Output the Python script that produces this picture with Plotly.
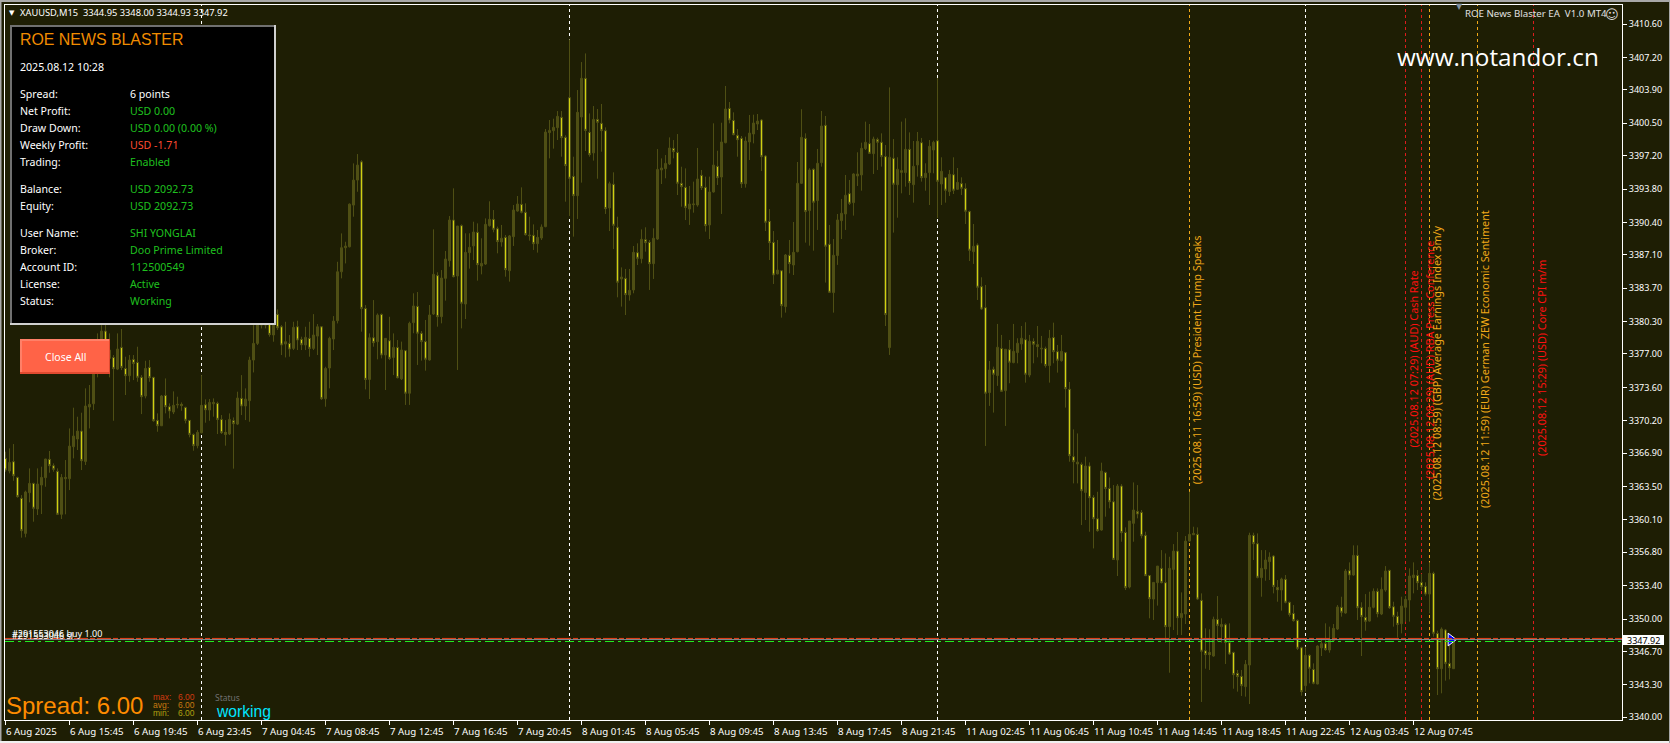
import plotly.graph_objects as go

# (open, high, low, close) per 15-minute bar, grouped by the sessions between the day separators
session_a = [
(3366.37,3367.05,3365.01,3365.18),(3365.08,3367.39,3364.84,3365.96),(3366.03,3367.83,3364.09,3364.60),(3364.43,3364.50,3362.36,3362.47),
(3362.30,3362.63,3358.29,3359.00),(3358.73,3363.08,3358.33,3362.94),(3362.87,3365.35,3361.89,3363.82),(3363.82,3363.89,3359.92,3361.28),
(3361.21,3365.35,3360.60,3363.76),(3363.65,3365.52,3360.70,3364.43),(3364.40,3366.33,3363.48,3366.30),(3366.27,3367.12,3364.91,3365.62),
(3365.62,3365.86,3365.01,3365.25),(3365.05,3365.35,3360.60,3360.67),(3360.67,3364.77,3360.19,3364.43),(3364.30,3366.20,3360.67,3364.43),
(3364.30,3369.42,3363.14,3367.62),(3367.56,3371.53,3366.37,3368.64),(3368.34,3370.61,3367.22,3369.15),(3369.15,3371.02,3365.18,3366.13),
(3366.06,3373.50,3365.69,3371.70),(3371.60,3373.84,3369.42,3371.87),(3371.93,3378.42,3371.29,3375.02),(3375.02,3379.10,3374.62,3377.74),
(3377.40,3379.94,3376.72,3379.33),(3379.33,3380.05,3376.72,3377.40),(3376.55,3379.10,3374.62,3377.40),(3376.65,3376.89,3370.20,3375.50),
(3375.46,3379.10,3375.36,3377.50),(3377.67,3379.54,3375.36,3375.63),(3375.53,3376.72,3372.82,3374.79),(3374.79,3376.89,3374.17,3376.38),
(3376.45,3376.89,3374.34,3376.04),(3376.14,3377.74,3374.17,3374.62),(3374.62,3374.85,3370.88,3372.65),(3372.72,3376.31,3372.48,3375.53),
(3375.63,3376.38,3374.17,3374.58),(3374.62,3374.68,3370.10,3370.20),(3370.24,3370.95,3369.08,3369.69),(3369.69,3372.82,3369.66,3372.72),
(3372.78,3374.51,3370.95,3371.63),(3371.63,3371.97,3370.44,3371.19),(3371.09,3373.19,3370.88,3371.77),(3371.80,3372.65,3371.46,3371.87),
(3371.87,3372.07,3371.22,3371.73),(3371.56,3371.63,3369.93,3370.24),(3370.24,3370.27,3368.51,3368.81),(3368.81,3368.91,3367.15,3367.66),
(3367.66,3369.25,3367.39,3369.02),
]
session_b = [
(3368.98,3374.85,3368.91,3371.77),(3371.83,3372.38,3370.00,3371.32),(3371.29,3372.41,3370.20,3372.07),(3371.93,3372.48,3370.61,3372.07),
(3371.97,3372.14,3368.85,3370.34),(3370.34,3370.78,3368.85,3368.98),(3369.02,3370.27,3367.66,3368.81),(3368.85,3370.95,3368.74,3370.34),
(3370.20,3370.54,3365.32,3369.90),(3369.86,3373.16,3369.76,3372.51),(3372.48,3374.85,3370.78,3371.70),(3371.70,3373.50,3370.27,3372.41),
(3372.24,3376.72,3370.10,3376.38),(3376.38,3379.94,3375.12,3378.08),(3378.08,3381.13,3377.91,3380.11),(3381.13,3382.50,3379.60,3379.94),
(3379.94,3381.20,3379.60,3380.45),(3380.11,3380.45,3378.76,3378.99),(3378.93,3380.45,3378.25,3380.11),(3381.03,3381.54,3379.44,3379.67),
(3379.77,3379.94,3376.89,3377.91),(3378.01,3380.28,3376.65,3378.25),(3378.08,3378.93,3376.72,3377.50),(3377.57,3380.28,3377.40,3379.71),
(3379.77,3380.39,3377.40,3378.42),(3378.49,3378.76,3377.40,3377.94),(3377.91,3379.77,3377.40,3378.69),(3378.59,3380.28,3376.72,3377.57),
(3377.57,3381.06,3377.40,3378.93),(3378.82,3380.05,3376.89,3379.77),(3379.77,3379.84,3372.31,3372.44),(3372.44,3375.70,3371.63,3375.53),
(3375.57,3378.76,3373.50,3378.59),(3378.52,3380.86,3377.40,3380.35),(3380.39,3386.39,3380.11,3385.37),(3385.37,3389.28,3384.70,3387.82),
(3387.82,3388.43,3386.22,3387.99),(3387.92,3392.33,3387.85,3392.26),(3392.16,3396.41,3390.98,3394.71),(3394.71,3397.36,3393.52,3396.24),
(3396.57,3396.74,3379.27,3381.64),(3381.64,3381.98,3373.39,3374.41),(3374.41,3379.10,3372.41,3378.65),(3378.65,3382.49,3377.74,3378.15),
(3378.25,3381.13,3376.45,3380.96),(3381.03,3381.13,3376.55,3376.89),(3376.89,3378.59,3373.33,3378.59),(3378.35,3380.79,3376.38,3376.55),
(3376.65,3379.10,3374.85,3377.67),(3377.67,3378.42,3374.51,3374.58),(3374.46,3378.26,3374.35,3377.41),(3377.34,3377.41,3371.81,3373.00),
(3373.00,3380.29,3371.81,3380.12),(3380.19,3383.18,3379.11,3381.89),(3381.85,3383.31,3375.88,3379.11),(3379.11,3379.34,3376.32,3378.26),
(3378.26,3380.46,3375.30,3376.46),(3376.39,3381.99,3376.32,3380.97),(3381.07,3389.69,3380.97,3385.11),(3384.98,3385.32,3379.78,3380.80),
(3380.80,3385.55,3380.12,3384.74),(3384.70,3387.49,3382.43,3386.67),(3386.50,3391.05,3385.89,3390.64),(3390.64,3393.87,3384.80,3384.87),
(3384.94,3390.03,3375.37,3390.03),(3390.07,3390.20,3379.61,3382.16),(3382.09,3389.29,3380.56,3387.35),(3387.32,3389.29,3385.69,3387.86),
(3388.00,3390.47,3386.57,3389.42),(3389.39,3390.30,3384.47,3386.10),(3385.96,3388.78,3385.11,3386.23),(3386.16,3390.81,3386.06,3390.20),
(3390.07,3392.55,3389.97,3390.71),(3390.71,3391.66,3389.39,3389.69),(3389.76,3389.97,3387.25,3388.44),(3388.40,3390.14,3387.93,3388.78),
(3388.88,3389.12,3384.87,3385.59),(3385.48,3389.12,3384.37,3389.02),(3388.95,3392.17,3388.00,3391.66),(3391.56,3393.09,3391.49,3392.27),
(3392.24,3393.97,3391.32,3391.43),(3391.43,3392.34,3389.05,3389.15),(3389.12,3390.98,3388.54,3389.05),(3389.08,3390.20,3387.59,3388.23),
(3388.23,3389.63,3387.32,3388.88),(3388.81,3390.20,3388.61,3389.93),(3389.97,3399.91,3389.90,3399.60),(3399.54,3400.83,3396.92,3399.77),
(3399.74,3400.96,3397.91,3400.08),(3400.05,3401.74,3398.79,3401.20),(3401.10,3401.74,3397.09,3399.03),(3399.06,3399.27,3392.51,3396.18),
]
session_c = [
(3403.10,3409.04,3391.05,3394.89),(3395.09,3397.09,3388.95,3393.12),(3393.12,3403.88,3390.75,3401.61),(3401.13,3406.73,3394.45,3405.07),
(3405.07,3407.61,3397.67,3399.77),(3399.57,3401.50,3397.09,3397.30),(3397.47,3402.25,3396.69,3400.89),(3400.89,3401.95,3394.85,3400.59),
(3400.49,3402.46,3397.60,3399.74),(3399.74,3400.08,3391.26,3391.80),(3391.87,3394.55,3389.52,3394.34),(3394.28,3395.50,3387.69,3390.10),
(3389.90,3390.98,3382.77,3384.30),(3384.64,3385.82,3381.82,3384.84),(3384.70,3385.66,3380.97,3383.04),(3383.01,3385.66,3382.43,3383.48),
(3383.52,3388.00,3383.18,3387.35),(3387.32,3388.27,3386.06,3386.74),(3386.71,3389.69,3386.23,3388.68),(3388.64,3389.90,3387.42,3388.34),
(3388.37,3388.61,3383.52,3386.20),(3386.20,3389.80,3384.64,3388.78),(3388.71,3397.87,3388.61,3395.80),(3395.74,3396.92,3394.31,3395.94),
(3395.87,3397.26,3394.89,3396.41),(3396.35,3399.06,3396.24,3397.98),(3397.94,3398.79,3396.92,3397.60),(3397.53,3399.40,3393.19,3394.38),
(3394.38,3396.07,3392.00,3394.04),(3393.97,3395.90,3390.64,3391.93),(3391.76,3394.11,3390.14,3392.27),(3392.20,3394.55,3391.39,3392.27),
(3392.17,3397.98,3392.00,3394.82),(3395.19,3395.74,3393.70,3393.94),(3393.97,3395.06,3389.46,3390.07),(3390.14,3395.06,3388.71,3393.50),
(3393.50,3400.49,3393.43,3396.24),(3396.11,3397.70,3394.21,3394.95),(3395.02,3400.55,3391.26,3398.59),(3398.52,3404.29,3398.45,3401.95),
(3402.01,3402.66,3400.49,3400.83),(3400.79,3401.61,3399.27,3399.33),(3399.27,3399.91,3397.09,3398.82),(3398.96,3399.20,3393.90,3394.34),
(3394.34,3399.13,3393.94,3398.69),(3398.59,3401.34,3396.75,3399.50),(3399.40,3401.37,3398.45,3400.52),(3400.42,3401.44,3399.81,3400.72),
(3400.83,3400.93,3395.63,3397.09),(3397.16,3397.26,3389.52,3390.41),(3390.51,3391.76,3386.57,3388.34),(3388.37,3389.52,3384.13,3385.04),
(3385.15,3388.61,3385.11,3385.55),(3385.48,3385.55,3380.70,3381.92),(3381.82,3387.18,3381.21,3387.08),(3387.05,3388.61,3385.21,3386.20),
(3386.06,3390.44,3385.04,3387.35),(3387.42,3396.55,3387.35,3394.38),(3394.38,3401.92,3394.31,3399.06),(3398.96,3399.47,3388.34,3391.50),
(3391.60,3395.91,3388.03,3395.74),(3395.81,3395.91,3387.52,3392.45),(3392.62,3397.88,3389.63,3396.42),(3396.48,3401.75,3396.08,3400.22),
(3400.29,3401.24,3384.27,3387.97),(3388.17,3390.14,3383.25,3383.28),(3383.25,3388.71,3381.21,3387.05),(3387.02,3391.26,3386.07,3390.65),
(3390.58,3392.79,3388.71,3391.33),(3391.26,3395.23,3389.63,3393.16),(3393.33,3394.72,3392.17,3392.34),(3392.41,3395.40,3391.09,3395.33),
(3395.13,3397.54,3394.11,3395.33),(3395.23,3398.52,3393.63,3397.94),(3397.91,3400.66,3397.77,3398.56),(3398.42,3400.42,3397.37,3397.43),
(3397.40,3399.13,3395.33,3398.89),(3398.83,3399.03,3395.74,3398.56),(3398.56,3399.47,3396.08,3397.10),(3397.10,3398.28,3379.85,3381.01),
(3377.65,3404.15,3376.90,3397.03),(3396.93,3398.89,3389.36,3394.28),(3394.24,3397.03,3390.88,3395.81),(3395.67,3400.66,3393.36,3395.50),
(3395.47,3401.00,3394.04,3397.84),(3397.84,3399.57,3393.19,3394.45),(3394.24,3398.69,3392.41,3396.11),(3396.25,3399.61,3395.06,3398.66),
(3398.52,3399.00,3394.55,3394.96),(3394.96,3396.42,3393.63,3395.40),(3395.47,3398.79,3392.17,3398.15),(3397.77,3398.72,3395.40,3398.56),
]
session_d = [
(3398.72,3405.11,3390.85,3394.58),(3394.31,3397.03,3392.17,3395.60),(3394.96,3394.99,3392.41,3393.67),(3393.53,3395.74,3393.09,3395.30),
(3395.26,3397.03,3393.29,3393.67),(3393.77,3395.94,3393.70,3394.48),(3394.35,3394.99,3393.19,3393.87),(3393.84,3394.38,3390.24,3391.53),
(3391.50,3391.60,3386.47,3387.56),(3387.42,3390.24,3386.17,3387.97),(3388.10,3388.27,3382.50,3383.79),(3383.86,3384.81,3381.48,3381.58),
(3381.72,3384.03,3367.63,3373.00),(3373.07,3376.29,3371.71,3375.37),(3375.44,3375.71,3371.03,3374.93),(3374.80,3380.06,3373.75,3377.68),
(3377.55,3378.94,3373.13,3373.20),(3373.27,3377.48,3369.67,3377.48),(3377.44,3378.43,3374.02,3376.16),(3376.12,3380.06,3376.05,3377.27),
(3377.14,3378.60,3376.05,3378.09),(3378.02,3379.85,3377.41,3378.60),(3378.46,3380.23,3374.08,3374.93),(3374.86,3378.94,3374.63,3378.29),
(3378.26,3378.60,3376.05,3377.99),(3377.95,3379.85,3376.66,3377.75),(3377.51,3378.84,3376.05,3377.58),(3377.55,3377.75,3375.61,3375.82),
(3375.82,3379.45,3374.08,3378.60),(3378.67,3380.19,3376.05,3377.24),(3377.24,3377.92,3375.10,3376.36),(3376.32,3378.94,3376.22,3377.27),
(3377.14,3377.21,3371.54,3373.47),(3373.41,3374.15,3366.03,3366.64),(3366.54,3369.32,3363.82,3366.03),(3365.79,3368.91,3363.82,3365.99),
(3365.76,3365.96,3359.58,3363.07),(3362.90,3366.54,3360.09,3365.59),(3365.59,3365.96,3358.90,3362.36),(3362.40,3362.63,3357.20,3360.22),
(3360.22,3362.97,3358.90,3359.00),(3359.07,3365.93,3359.00,3365.08),(3364.94,3365.01,3360.43,3363.31),(3363.31,3364.43,3361.28,3361.95),
(3361.95,3363.65,3356.02,3356.08),(3356.02,3363.75,3354.39,3363.55),(3363.55,3363.75,3357.88,3358.80),(3358.83,3359.34,3352.96,3353.20),
(3353.27,3359.99,3353.13,3359.99),(3359.75,3363.92,3357.88,3361.11),(3360.97,3363.65,3360.26,3360.70),(3360.87,3361.11,3358.22,3358.49),
(3358.53,3358.90,3354.39,3354.42),(3354.45,3354.49,3350.08,3352.08),(3352.04,3353.74,3349.91,3353.74),(3353.71,3355.40,3351.37,3355.40),
(3355.17,3357.03,3353.64,3353.71),(3353.71,3356.69,3347.60,3349.23),(3349.23,3356.35,3344.54,3355.17),(3355.06,3357.64,3348.89,3356.93),
(3356.93,3358.87,3348.38,3350.14),(3350.14,3352.72,3348.38,3350.58),(3350.52,3358.46,3349.50,3357.95),(3357.95,3362.97,3357.88,3358.63),
(3358.59,3359.41,3358.56,3358.73),(3358.63,3359.34,3351.94,3352.04),(3351.91,3352.62,3341.56,3346.72),(3346.78,3349.06,3344.95,3346.38),
(3346.61,3348.96,3344.82,3346.38),(3346.24,3350.25,3346.17,3349.97),(3349.97,3352.35,3347.70,3349.36),(3349.23,3350.08,3347.60,3349.46),
(3349.43,3349.57,3345.43,3347.63),(3347.60,3349.57,3346.34,3346.44),(3346.61,3346.68,3342.91,3344.34),(3344.48,3344.82,3342.61,3344.14),
(3344.17,3344.82,3342.17,3343.22),(3343.12,3345.83,3342.10,3345.39),(3345.32,3358.80,3341.35,3358.53),(3358.53,3358.80,3356.02,3357.68),
(3357.68,3358.73,3354.15,3354.25),(3354.22,3357.03,3352.28,3355.17),(3355.10,3357.03,3353.91,3356.02),(3355.85,3356.80,3353.98,3356.32),
(3356.42,3356.52,3352.62,3353.33),(3353.23,3353.98,3351.77,3352.99),(3352.96,3354.22,3350.86,3354.08),(3354.05,3354.49,3351.60,3351.71),
(3351.71,3351.77,3350.25,3350.48),(3350.58,3351.43,3349.74,3349.84),(3349.87,3349.97,3346.85,3347.02),(3347.09,3347.19,3342.20,3342.61),
]
session_e = [
(3343.22,3347.19,3342.61,3346.31),(3346.31,3346.41,3343.46,3344.99),(3344.88,3345.49,3343.36,3343.46),(3343.39,3347.33,3343.36,3347.26),
(3347.06,3348.04,3346.24,3347.50),(3347.50,3349.57,3346.78,3346.89),(3346.85,3349.23,3346.58,3347.87),(3347.80,3349.50,3347.70,3349.06),
(3348.99,3351.43,3348.89,3351.23),(3351.20,3352.28,3350.25,3350.69),(3350.62,3355.10,3350.55,3354.90),(3354.93,3355.78,3353.98,3354.49),
(3354.49,3357.51,3354.42,3356.49),(3356.49,3357.51,3349.91,3351.16),(3351.20,3351.71,3346.24,3350.25),(3350.18,3352.55,3348.82,3349.77),
(3349.80,3352.79,3349.74,3351.20),(3351.20,3353.13,3351.09,3352.83),(3352.83,3353.13,3350.18,3350.55),(3350.52,3354.25,3350.41,3353.03),
(3352.96,3355.40,3352.79,3354.90),(3354.96,3355.03,3351.03,3351.16),(3351.26,3351.77,3349.23,3350.28),(3350.28,3350.75,3348.11,3349.46),
(3349.53,3352.28,3348.55,3351.33),(3351.20,3352.35,3349.74,3352.01),(3351.94,3355.17,3349.74,3354.39),(3354.22,3355.78,3352.62,3354.49),
(3354.45,3355.00,3352.96,3353.71),(3353.74,3354.59,3352.96,3353.30),(3353.33,3353.74,3352.38,3352.55),(3352.55,3355.78,3350.58,3354.66),
(3354.66,3354.83,3348.21,3348.55),(3348.55,3348.82,3342.27,3344.95),(3344.95,3349.16,3342.44,3348.99),(3348.89,3348.99,3343.73,3345.49),
(3345.49,3348.38,3343.86,3345.05),(3344.95,3348.00,3344.93,3347.92),
]

time_labels = ["6 Aug 2025","6 Aug 15:45","6 Aug 19:45","6 Aug 23:45","7 Aug 04:45","7 Aug 08:45","7 Aug 12:45",
               "7 Aug 16:45","7 Aug 20:45","8 Aug 01:45","8 Aug 05:45","8 Aug 09:45","8 Aug 13:45","8 Aug 17:45",
               "8 Aug 21:45","11 Aug 02:45","11 Aug 06:45","11 Aug 10:45","11 Aug 14:45","11 Aug 18:45","11 Aug 22:45",
               "12 Aug 03:45","12 Aug 07:45"]
price_ticks = [3410.6,3407.2,3403.9,3400.5,3397.2,3393.8,3390.4,3387.1,3383.7,3380.3,3377.0,3373.6,3370.2,3366.9,
               3363.5,3360.1,3356.8,3353.4,3350.0,3346.7,3343.3,3340.0]
day_separators = [49,141,233,325]
# bar index, colour, label
news_events = [
 (296,"o","(2025.08.11 16:59) (USD) President Trump Speaks"),
 (350,"r","(2025.08.12 07:29) (AUD) Cash Rate"),
 (354,"r","(2025.08.12 08:29) (AUD) RBA Press Conference"),
 (356,"o","(2025.08.12 08:59) (GBP) Average Earnings Index 3m/y"),
 (368,"o","(2025.08.12 11:59) (EUR) German ZEW Economic Sentiment"),
 (382,"r","(2025.08.12 15:29) (USD) Core CPI m/m"),
]
bid_price = 3347.92
stop_price = 3348.03
order_price = 3347.72
panel_rows = [
 ("Spread:","6 points","w",94),("Net Profit:","USD 0.00","g",111),("Draw Down:","USD 0.00 (0.00 %)","g",128),
 ("Weekly Profit:","USD -1.71","r",145),("Trading:","Enabled","g",162),("Balance:","USD 2092.73","g",189),
 ("Equity:","USD 2092.73","g",206),("User Name:","SHI YONGLAI","g",233),("Broker:","Doo Prime Limited","g",250),
 ("Account ID:","112500549","g",267),("License:","Active","g",284),("Status:","Working","g",301),
]

W, H = 1670, 743
L, R, T, B = 5, 1622, 5, 720
BG = "#1e1e04"; OLIVE = "#4f4f14"; YEL = "#d0d010"
UI = "Noto Sans"
BAR0, BAR_STEP = 5.5, 4
fx = lambda p: (p - L) / (R - L)
fy = lambda p: 1 - (p - T) / (B - T)
EV = {"o": "#f0a818", "r": "#dc1c1c"}
VAL = {"w": "#ffffff", "g": "#1fc01f", "r": "#ff4a30"}

bars = session_a + session_b + session_c + session_d + session_e
opens, highs, lows, closes = map(list, zip(*bars))
idx = list(range(len(bars)))

fig = go.Figure(go.Candlestick(
    x=idx, open=opens, high=highs, low=lows, close=closes, whiskerwidth=0, hoverinfo="skip",
    increasing=dict(line=dict(color=OLIVE, width=1), fillcolor=OLIVE),
    decreasing=dict(line=dict(color=OLIVE, width=1), fillcolor=YEL),
))
fig.add_trace(go.Scatter(x=[idx[-1]-0.65], y=[bid_price], mode="markers", hoverinfo="skip",
                         marker=dict(symbol="triangle-right", size=11, color="#0000ff", line=dict(color="#ffffff", width=1))))

shapes = []
for k in day_separators:
    shapes.append(dict(type="line", xref="x", yref="paper", x0=k, x1=k, y0=0, y1=1, layer="below",
                       line=dict(color="#ffffff", width=1, dash="3px,3px")))
for k, c, _ in news_events:
    shapes.append(dict(type="line", xref="x", yref="paper", x0=k, x1=k, y0=0, y1=1, layer="below",
                       line=dict(color=EV[c], width=1, dash="3px,3px")))
def hline(y, color, dash="solid"):
    shapes.append(dict(type="line", xref="paper", yref="y", x0=0, x1=1, y0=y, y1=y, layer="above",
                       line=dict(color=color, width=1, dash=dash)))
hline(order_price, "#22ee22", "9px,4px,3px,4px")
hline(stop_price, "#e8401a", "14px,2px,5px,2px")
hline(bid_price, "#808890")
def rect(x0, y0, x1, y1, fill):
    shapes.append(dict(type="rect", xref="paper", yref="paper", x0=fx(x0), x1=fx(x1), y0=fy(y0), y1=fy(y1),
                       layer="above", fillcolor=fill, line=dict(width=0)))
# info panel
rect(10, 25, 276, 325, "#d0d0d0")
rect(10, 25, 274, 323, "#707070")
rect(12, 27, 274, 323, "#000000")
# button
rect(20, 339, 110, 374, "#e04a30")
rect(20, 339, 109, 372, "#ff8068")
rect(22, 341, 109, 372, "#ff6347")
# price tag
rect(1623, 635, 1664, 645, "#ffffff")
# window frame
rect(0, 0, W, 2, "#a8a8a8")
rect(0, 0, 1.5, H, "#a8a8a8")
rect(0, 741, W, H, "#f0f0f0")
rect(1669, 0, W, H, "#a8a8a8")

ann = []
def note(px, py, text, color="#ffffff", size=9.5, anchor="left", font=UI, angle=0, yanchor="middle"):
    ann.append(dict(xref="paper", yref="paper", x=fx(px), y=fy(py), text=text, showarrow=False, xanchor=anchor,
                    yanchor=yanchor, textangle=angle, font=dict(family=font, size=size, color=color),
                    borderpad=0, borderwidth=0))

note(20, 12.5, "XAUUSD,M15&nbsp;&nbsp;3344.95 3348.00 3344.93 3347.92", size=9.3)
note(11.5, 12.5, "▼", size=7, anchor="center", font="DejaVu Sans")
note(20, 39, "ROE NEWS BLASTER", "#f08c00", 15.9, font="Liberation Sans")
note(20, 67, "2025.08.12 10:28", size=10.6)
for label, value, col, y in panel_rows:
    note(20, y, label, size=10.6)
    note(130, y, value, VAL[col], size=10.6)
note(65.5, 357, "Close All", size=10.5, anchor="center")
note(6, 705, "Spread: 6.00", "#ff8c00", 24, font="Liberation Sans")
for y, lab, col in [(697, "max:", "#d03a10"), (705, "avg:", "#c87a10"), (713, "min:", "#b0a010")]:
    note(153, y, lab, col, 8.5, font="Liberation Sans")
    note(178, y, "6.00", col, 8.5, font="Liberation Sans")
note(215, 697, "Status", "#707070", 8.5)
note(216, 711, "working", "#00e5ff", 15.7, font="Liberation Sans")
note(1465, 13.5, "ROE News Blaster EA&nbsp; V1.0 MT4", "#e0e0e0", 9.7)
note(1612, 14.5, "☺", "#d8d8d8", 13, anchor="center", font="DejaVu Sans")
note(1459, 7, "▼", "#8090a0", 8, anchor="center", font="DejaVu Sans")
note(1397, 56, "www.notandor.cn", "#ffffff", 24.3, font="Open Sans")
note(12, 633, "#291553046 buy 1.00", size=9)
note(12, 635.5, "#291553046 sl", size=9)
note(1643.5, 640, "3347.92", "#000000", 9, anchor="center")

label_tops = {296: 235, 350: 271, 354: 241, 356: 225, 368: 210, 382: 260}
label_cols = {296: 1196.7, 350: 1413, 354: 1429, 356: 1436.7, 368: 1484, 382: 1541}
for k, c, text in news_events:
    note(label_cols[k], label_tops[k], text, {"o": "#f0a818", "r": "#ff1010"}[c], 10.8, anchor="center",
         angle=-90, yanchor="top")

for i, lab in enumerate(time_labels):
    ann.append(dict(xref="x", yref="paper", x=16*i, y=fy(731), text=lab, showarrow=False, xanchor="left", xshift=-2,
                    yanchor="middle", font=dict(family=UI, size=9.7, color="#ffffff")))

fig.update_layout(
    width=W, height=H, autosize=False, showlegend=False, paper_bgcolor=BG, plot_bgcolor=BG,
    margin=dict(l=L, r=W-R, t=T, b=H-B, pad=0), boxgap=0.2, boxgroupgap=0.375, hovermode=False, shapes=shapes, annotations=ann,
    xaxis=dict(range=[(L-BAR0)/BAR_STEP, (R-BAR0)/BAR_STEP], rangeslider=dict(visible=False), showgrid=False, zeroline=False,
               tickvals=[16*i for i in range(len(time_labels))], showticklabels=False, ticks="outside", ticklen=4,
               tickcolor="#ffffff", tickwidth=1, showline=True, linecolor="#ffffff", linewidth=1, mirror=True),
    yaxis=dict(range=[3339.725, 3412.54], side="right", showgrid=False, zeroline=False, tickvals=price_ticks,
               tickformat=".2f", ticks="outside", ticklen=4, tickcolor="#ffffff", tickwidth=1, showline=True,
               linecolor="#ffffff", linewidth=1, mirror=True, tickfont=dict(family=UI, size=9, color="#ffffff")),
)
fig.write_html("out.html", config={"displayModeBar": False},
               post_script="document.body.style.margin='0';document.body.style.overflow='hidden';document.body.style.background='%s';" % BG)
